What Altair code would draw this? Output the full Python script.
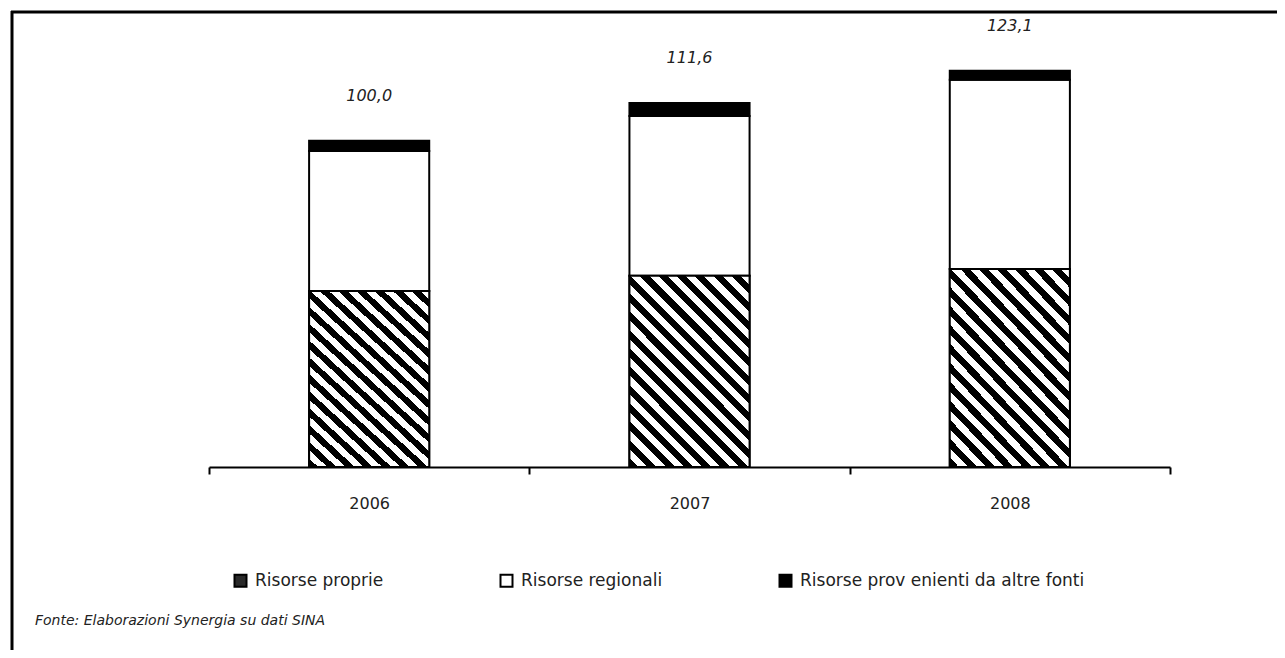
import altair as alt
import pandas as pd

# ---- data ----
anni = ["2006", "2007", "2008"]
risorse_proprie = [54.0, 58.6, 60.7]
risorse_regionali = [42.9, 49.0, 58.0]
risorse_altre = [3.1, 4.0, 2.8]
totali = [100.0, 111.6, 121.5]
etichette = ["100,0", "111,6", "123,1"]
serie = ["Risorse proprie", "Risorse regionali", "Risorse prov enienti da altre fonti"]
fonte = ["Fonte: Elaborazioni Synergia su dati SINA"]

rows = []
for i, a in enumerate(anni):
    for k, vals in enumerate([risorse_proprie, risorse_regionali, risorse_altre]):
        rows.append({"anno": a, "serie": serie[k], "valore": vals[i], "ordine": k})
df = pd.DataFrame(rows)
df_lab = pd.DataFrame({"anno": anni, "totale": totali, "etichetta": etichette})
df_fonte = pd.DataFrame({"testo": fonte})
df_frame = pd.DataFrame({"k": [0]})

FONT = "DejaVu Sans"
TXT = "#222222"

# diagonal hatch as a hard-stop linear gradient
N = 17
stops = []
for i in range(N):
    a0 = i / N
    a1 = (i + 0.5) / N
    a2 = (i + 1) / N
    stops += [
        alt.GradientStop(offset=a0, color="black"),
        alt.GradientStop(offset=a1, color="black"),
        alt.GradientStop(offset=a1, color="white"),
        alt.GradientStop(offset=a2, color="white"),
    ]
hatch = alt.LinearGradient(gradient="linear", stops=stops, x1=0, y1=1, x2=0.735, y2=-0.167)

x_enc = alt.X(
    "anno:N",
    sort=anni,
    scale=alt.Scale(paddingInner=0, paddingOuter=0),
    axis=alt.Axis(
        title=None, labelAngle=0, tickBand="extent", domainColor="black",
        domainWidth=2, tickColor="black", tickWidth=2, tickSize=7,
        labelFont=FONT, labelFontSize=16, labelColor=TXT, labelPadding=21,
        grid=False,
    ),
)
y_scale = alt.Scale(domain=[0, 130])

bars = alt.Chart(df).mark_bar(
    width=alt.RelativeBandSize(0.375), stroke="black", strokeWidth=2
).encode(
    x=x_enc,
    y=alt.Y("valore:Q", stack="zero", scale=y_scale, axis=None),
    fill=alt.Fill(
        "serie:N",
        scale=alt.Scale(domain=serie, range=["#2a2a2a", "white", "black"]),
        legend=alt.Legend(
            title=None, orient="none", legendX=23, legendY=529,
            direction="horizontal", symbolType="square", symbolSize=144,
            symbolStrokeColor="black", symbolStrokeWidth=2,
            labelFont=FONT, labelFontSize=17, labelColor=TXT,
            labelOffset=6, columnPadding=112, padding=0, labelLimit=500,
        ),
    ),
    order=alt.Order("ordine:Q"),
)

hatched = alt.Chart(df).transform_filter(
    alt.datum.serie == serie[0]
).mark_bar(
    width=alt.RelativeBandSize(0.375), fill=hatch, stroke="black", strokeWidth=2
).encode(
    x=alt.X("anno:N", sort=anni),
    y=alt.Y("valore:Q", scale=y_scale, axis=None),
)

labels = alt.Chart(df_lab).mark_text(
    font=FONT, fontSize=16, fontStyle="italic", color=TXT, dy=-45
).encode(
    x=alt.X("anno:N", sort=anni),
    y=alt.Y("totale:Q", scale=y_scale, axis=None),
    text="etichetta:N",
)

caption = alt.Chart(df_fonte).mark_text(
    font=FONT, fontSize=14, fontStyle="italic", color=TXT, align="left", baseline="middle"
).encode(
    x=alt.value(-174), y=alt.value(578), text="testo:N"
)

frame_top = alt.Chart(df_frame).mark_rule(color="black", strokeWidth=3).encode(
    x=alt.value(-198), x2=alt.value(1300), y=alt.value(-31)
)
frame_left = alt.Chart(df_frame).mark_rule(color="black", strokeWidth=3).encode(
    x=alt.value(-197), y=alt.value(-32), y2=alt.value(614)
)

chart = alt.layer(bars, hatched, labels, caption, frame_top, frame_left).properties(
    width=961,
    height=424,
    autosize="none",
    padding={"left": 201, "top": 35, "right": 107, "bottom": 183},
    background="white",
).configure_view(stroke="transparent")

chart.save("out.html", embed_options={"renderer": "svg", "actions": False})
